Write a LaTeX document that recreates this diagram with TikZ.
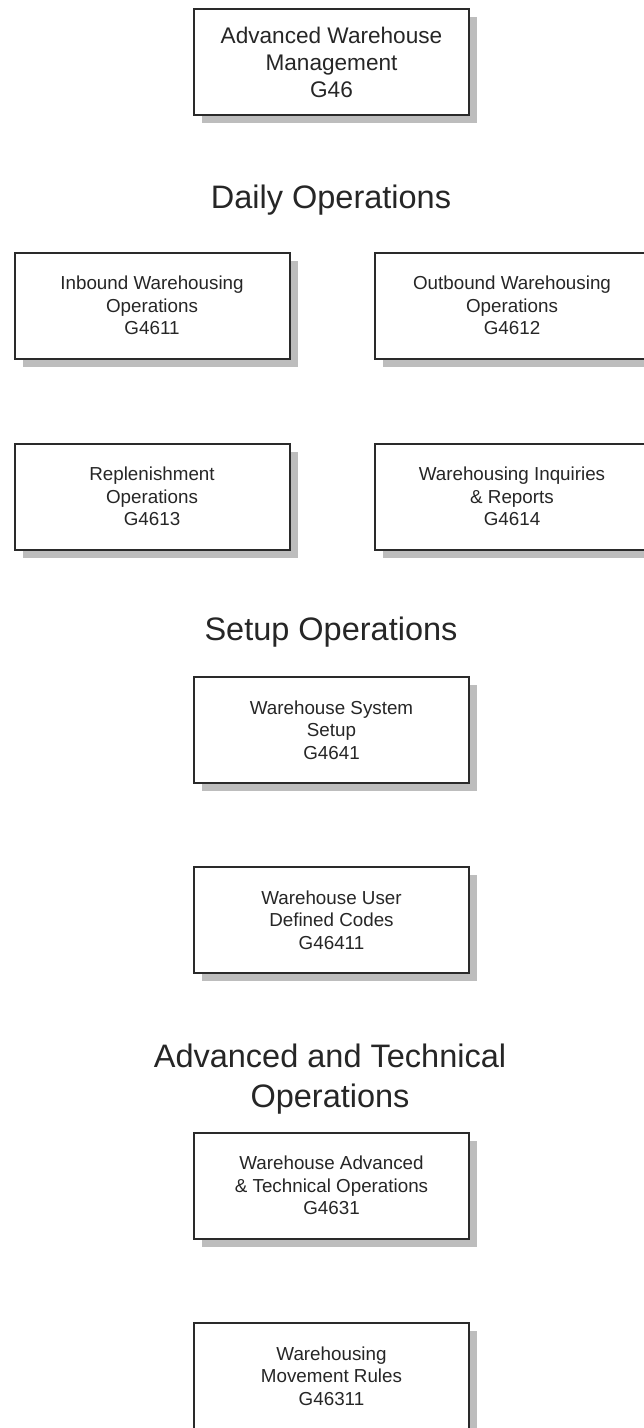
\documentclass[tikz,border=0pt]{standalone}
\usepackage{fontspec}
\setmainfont{Liberation Sans}
\usetikzlibrary{shadows}
\definecolor{boxline}{HTML}{2A2A2A}
\definecolor{textc}{HTML}{262626}
\definecolor{shadowc}{HTML}{BDBDBD}
\tikzset{
  box/.style={draw=boxline, line width=2pt, fill=white,
    minimum width=275pt, minimum height=106pt, inner sep=0pt,
    align=center, text=textc, font=\fontsize{18.8}{22.5}\selectfont,
    drop shadow={shadow xshift=8pt, shadow yshift=-8pt, fill=shadowc, opacity=1}},
  bigbox/.style={box, font=\fontsize{22.6}{27}\selectfont},
  heading/.style={text=textc, align=center, inner sep=0pt,
    font=\fontsize{32.5}{40}\selectfont}
}
\begin{document}
\begin{tikzpicture}[x=1pt,y=-1pt]
\clip (0,0) rectangle (644,1428);
\fill[white] (0,0) rectangle (644,1428);
\node[bigbox] (top) at (331.5,62) {Advanced Warehouse\\Management\\G46};
\node[heading, anchor=base] (daily) at (331,208) {Daily Operations};
\node[box] (inbound) at (152,305.5) {Inbound Warehousing\\Operations\\G4611};
\node[box] (outbound) at (512,305.5) {Outbound Warehousing\\Operations\\G4612};
\node[box] (repl) at (152,496.5) {Replenishment\\Operations\\G4613};
\node[box] (inq) at (512,496.5) {Warehousing Inquiries\\\& Reports\\G4614};
\node[heading, anchor=base] (setuph) at (331,640) {Setup Operations};
\node[box] (setup) at (331.5,730) {Warehouse System\\Setup\\G4641};
\node[box] (udc) at (331.5,920) {Warehouse User\\Defined Codes\\G46411};
\node[heading] (advh) at (330,1079.5) {Advanced and Technical\\Operations};
\node[box] (adv) at (331.5,1185.5) {Warehouse Advanced\\\& Technical Operations\\G4631};
\node[box] (move) at (331.5,1376) {Warehousing\\Movement Rules\\G46311};
\end{tikzpicture}
\end{document}
